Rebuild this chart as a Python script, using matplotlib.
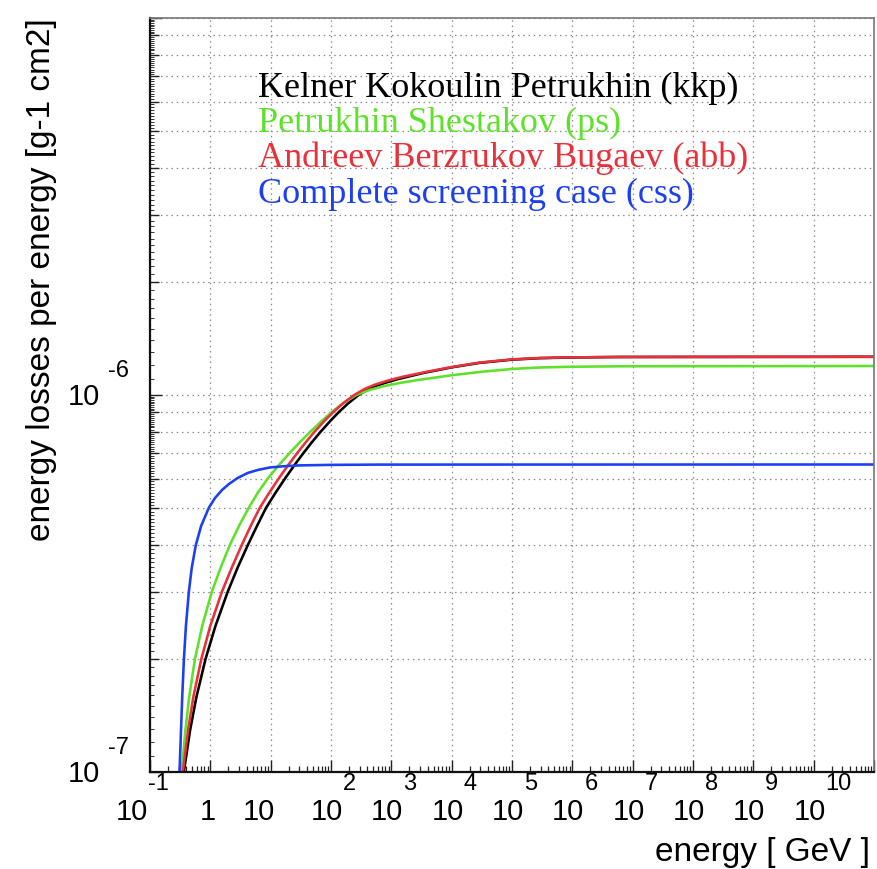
import numpy as np
import matplotlib
matplotlib.use("Agg")
import matplotlib.pyplot as plt
from matplotlib.ticker import LogLocator, NullFormatter
from matplotlib.collections import LineCollection

# ---------------- data (energy in GeV, losses per energy in g^-1 cm^2) ----------------
# common ordinate levels read on the rising part of the curves
rise_v = [8.959e-8, 1.0e-7, 1.2923e-7, 1.5807e-7, 1.994e-7, 2.439e-7, 3.0025e-7, 3.476e-7,
          4.001e-7, 4.4927e-7, 5.015e-7]

kkp_E = [0.3526, 0.3635, 0.4624, 0.5881, 0.8326, 1.2151, 1.936, 2.8146, 4.187, 5.9266, 8.3571,
         11.97, 17.53, 24.91, 34.99, 48.59, 66.71, 97.15, 135.2, 195.8, 286.9, 390.9, 526.5,
         771.3, 1306, 3394, 9924, 28910, 98110, 285800, 898600, 6.064e6, 1e11]
kkp_v = rise_v + [5.4963e-7, 6.024e-7, 6.522e-7, 7.0181e-7, 7.5063e-7, 7.9775e-7, 8.531e-7,
                  9.0144e-7, 9.5232e-7, 1.0e-6, 1.031e-6, 1.0533e-6, 1.076e-6, 1.1027e-6,
                  1.1439e-6, 1.1837e-6, 1.2167e-6, 1.2407e-6, 1.2522e-6, 1.2575e-6, 1.2614e-6,
                  1.2629e-6]

ps_E = [0.3241, 0.3342, 0.3864, 0.4467, 0.5553, 0.7339, 1.055, 1.476, 2.106, 2.981, 4.317,
        6.086, 9.089, 13.73, 20.66, 30.73, 45.03, 70.11, 103.5, 160.6, 262.8, 433.3, 768.4,
        1362, 2924, 9924, 28910, 98110, 285800, 898600, 6.064e6, 1e11]
ps_v = rise_v + [5.4963e-7, 6.024e-7, 6.522e-7, 7.0181e-7, 7.5063e-7, 7.9775e-7, 8.531e-7,
                 9.0144e-7, 9.5232e-7, 1.0e-6, 1.031e-6, 1.0565e-6, 1.076e-6, 1.0973e-6,
                 1.1279e-6, 1.1509e-6, 1.1722e-6, 1.183e-6, 1.188e-6, 1.1917e-6, 1.1938e-6]

abb_E = [0.3368, 0.3499, 0.4276, 0.5225, 0.7091, 0.9962, 1.5513, 2.2555, 3.3169, 4.6594, 6.5702,
         9.4074, 13.78, 19.58, 27.61, 38.49, 52.85, 77.43, 109.2, 161.2, 242.5, 359.4, 516.6,
         832.5, 1499, 3720, 9924, 28910, 98110, 285800, 898600, 6.064e6, 1e11]
abb_v = rise_v + [5.4963e-7, 6.024e-7, 6.522e-7, 7.0181e-7, 7.5063e-7, 7.9775e-7, 8.531e-7,
                  9.0144e-7, 9.5232e-7, 1.0e-6, 1.0373e-6, 1.063e-6, 1.0893e-6, 1.1163e-6,
                  1.1509e-6, 1.1859e-6, 1.2189e-6, 1.243e-6, 1.2537e-6, 1.2583e-6, 1.2614e-6,
                  1.2629e-6]

css_E = [0.3003, 0.3085, 0.3267, 0.342, 0.365, 0.3939, 0.44, 0.4916, 0.5748, 0.7037, 0.9407,
         1.1966, 1.5632, 2.0345, 2.8362, 4.155, 6.087, 9.6255, 16.87, 29.92, 94.07, 634.8, 1e11]
css_v = rise_v + [5.3314e-7, 5.598e-7, 5.8066e-7, 6.024e-7, 6.2102e-7, 6.325e-7, 6.4224e-7,
                  6.4736e-7, 6.5053e-7, 6.5252e-7, 6.5371e-7, 6.5412e-7]

legend_labels = ["Kelner Kokoulin Petrukhin (kkp)", "Petrukhin Shestakov (ps)",
                 "Andreev Berzrukov Bugaev (abb)", "Complete screening case (css)"]
x_tick_exps = list(range(-1, 11))
y_tick_exps = [-7, -6]
x_title = "energy [ GeV ]"
y_title = "energy losses per energy [g-1 cm2]"

# ---------------- styling ----------------
C_BLACK = "#000000"
C_GREEN = "#5fe12c"
C_RED = "#e8313a"
C_BLUE = "#1c3ff2"
SANS = ["Liberation Sans", "DejaVu Sans"]
SERIF = ["Liberation Serif", "DejaVu Serif"]
PT = 0.72  # points per pixel at dpi=100

W, H = 878, 869
fig = plt.figure(figsize=(W / 100, H / 100), dpi=100)
L, R, T, B = 150, 874, 18, 772
ax = fig.add_axes([L / W, 1 - B / H, (R - L) / W, (B - T) / H])
ax.set_xscale("log")
ax.set_yscale("log")
ax.set_xlim(1e-1, 1e11)
ax.set_ylim(1e-7, 1e-5)

# grid
grid_kw = dict(color="#8a8a8a", lw=0.9, ls=(0, (1.2, 3.0)))
ax.xaxis.set_major_locator(LogLocator(base=10, numticks=30))
ax.xaxis.set_minor_locator(LogLocator(base=10, subs=np.arange(2, 10), numticks=300))
ax.yaxis.set_major_locator(LogLocator(base=10, numticks=30))
ax.yaxis.set_minor_locator(LogLocator(base=10, subs=np.arange(2, 10), numticks=300))
for a in (ax.xaxis, ax.yaxis):
    a.set_major_formatter(NullFormatter())
    a.set_minor_formatter(NullFormatter())
ax.grid(True, which="major", axis="x", **grid_kw)
ax.grid(True, which="both", axis="y", **grid_kw)
ax.set_axisbelow(True)

ax.tick_params(which="both", direction="in", top=False, right=False, colors="#222222")
ax.tick_params(axis="x", which="major", length=12 * PT, width=1.0)
ax.tick_params(axis="x", which="minor", length=6 * PT, width=0.9)
ax.tick_params(axis="y", which="major", length=12 * PT, width=1.0)
ax.tick_params(axis="y", which="minor", length=9 * PT, width=1.0)

# fine ticks on the y axis (ROOT style)
segs = []
frac = 4.0 / (R - L)
for d in y_tick_exps:
    for m in np.arange(1.1, 10.0, 0.1):
        if abs(m - round(m)) < 1e-6:
            continue
        yv = m * 10.0 ** d
        segs.append([(0, yv), (frac, yv)])
ax.add_collection(LineCollection(segs, colors="#333333", linewidths=0.7,
                                 transform=ax.get_yaxis_transform(), clip_on=False))

for s in ["left", "bottom"]:
    ax.spines[s].set_color("#111111")
    ax.spines[s].set_linewidth(1.6)
for s in ["top", "right"]:
    ax.spines[s].set_color("#777777")
    ax.spines[s].set_linewidth(1.2)

# curves
lw = 2.6 * PT
ax.plot(kkp_E, kkp_v, color=C_BLACK, lw=lw, solid_joinstyle="round")
ax.plot(ps_E, ps_v, color=C_GREEN, lw=lw, solid_joinstyle="round")
ax.plot(abb_E, abb_v, color=C_RED, lw=lw, solid_joinstyle="round")
ax.plot(css_E, css_v, color=C_BLUE, lw=lw, solid_joinstyle="round")

# x tick labels (ROOT style 10 + raised exponent)
base_fs = 21
exp_fs = 17
for k in x_tick_exps:
    xv = 10.0 ** k
    if k == 0:
        ax.annotate("1", xy=(xv, 0), xycoords=("data", "axes fraction"),
                    xytext=(-3 * PT, -40 * PT), textcoords="offset points",
                    ha="center", va="center", fontsize=base_fs, family=SANS)
    elif k == 1:
        ax.annotate("10", xy=(xv, 0), xycoords=("data", "axes fraction"),
                    xytext=(-12 * PT, -40 * PT), textcoords="offset points",
                    ha="center", va="center", fontsize=base_fs, family=SANS)
    else:
        shift = -14 if k == -1 else 0
        ax.annotate("10", xy=(xv, 0), xycoords=("data", "axes fraction"),
                    xytext=((shift - 4) * PT, -40 * PT), textcoords="offset points",
                    ha="center", va="center", fontsize=base_fs, family=SANS)
        ax.annotate(str(k), xy=(xv, 0), xycoords=("data", "axes fraction"),
                    xytext=((shift + 12) * PT, -12 * PT), textcoords="offset points",
                    ha="left", va="center", fontsize=exp_fs, family=SANS)

# y tick labels
for k in y_tick_exps:
    yv = 10.0 ** k
    ax.annotate("10", xy=(0, yv), xycoords=("axes fraction", "data"),
                xytext=(-50 * PT, -2 * PT), textcoords="offset points",
                ha="right", va="center", fontsize=base_fs, family=SANS)
    ax.annotate(str(k), xy=(0, yv), xycoords=("axes fraction", "data"),
                xytext=(-42 * PT, 24 * PT), textcoords="offset points",
                ha="left", va="center", fontsize=exp_fs, family=SANS)

# axis titles
fig.text(870 / W, 1 - 852 / H, x_title, ha="right", va="center", fontsize=24, family=SANS)
fig.text(42 / W, 1 - 18 / H, y_title, ha="center", va="top", rotation=90,
         fontsize=24, family=SANS)

# legend-like labels
colors = [C_BLACK, C_GREEN, C_RED, C_BLUE]
ys = [88, 123, 158, 194]
for lab, c, yy in zip(legend_labels, colors, ys):
    fig.text(258 / W, 1 - yy / H, lab, ha="left", va="center", fontsize=26,
             family=SERIF, color=c)

fig.savefig("out.png", dpi=100)
